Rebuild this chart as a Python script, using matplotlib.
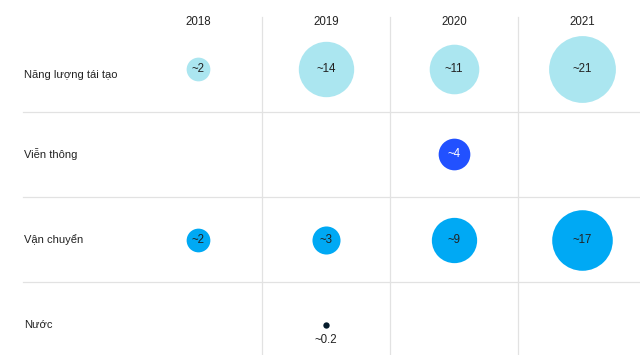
import matplotlib.pyplot as plt
import numpy as np

plt.rcParams['font.family'] = ['Liberation Sans', 'DejaVu Sans']

years = ["2018", "2019", "2020", "2021"]
sectors = ["Năng lượng tái tạo", "Viễn thông", "Vận chuyển", "Nước"]

renewables = [2, 14, 11, 21]
telecom = [None, None, 4, None]
transport = [2, 3, 9, 17]
water = [None, 0.2, None, None]

values = [renewables, telecom, transport, water]
colors = ["#abe6f0", "#2251ff", "#00a9f4", "#051c2c"]
text_colors = ["#222222", "white", "#222222", "#222222"]
label_shift = [0.07, 0.0, 0.0, 0.0]  # first row label sits a bit lower

fig = plt.figure(figsize=(6.4, 3.55), dpi=100)
ax = fig.add_axes([0, 0, 1, 1])
ax.set_xlim(-1.547, 3.453)
ax.set_ylim(3.353, -0.809)
ax.axis("off")

grid = "#e2e2e2"
for i in range(len(years) - 1):
    ax.plot([i + 0.5, i + 0.5], [-0.61, 3.353], color=grid, lw=0.9, zorder=0)
for j in range(len(sectors) - 1):
    ax.plot([-1.367, 3.453], [j + 0.5, j + 0.5], color=grid, lw=0.9, zorder=0)

for i, y in enumerate(years):
    ax.text(i, -0.55, y, ha="center", va="center", fontsize=8.3, color="#222222")

for j, name in enumerate(sectors):
    ax.text(-1.36, j + label_shift[j], name, ha="left", va="center", fontsize=8, color="#222222")
    for i, v in enumerate(values[j]):
        if v is None:
            continue
        d_px = 13.6 * np.sqrt(v) + 4.5 if v >= 1 else 14.2 * np.sqrt(v)
        ax.scatter(i, j, s=(d_px * 0.72) ** 2, color=colors[j], linewidths=0, zorder=2)
        label = "~" + ("%g" % v)
        if v < 1:
            ax.text(i, j + 0.18, label, ha="center", va="center", fontsize=8.3, color=text_colors[j])
        else:
            ax.text(i, j, label, ha="center", va="center", fontsize=8.3, color=text_colors[j], zorder=3)

fig.savefig("out.png", dpi=100)
